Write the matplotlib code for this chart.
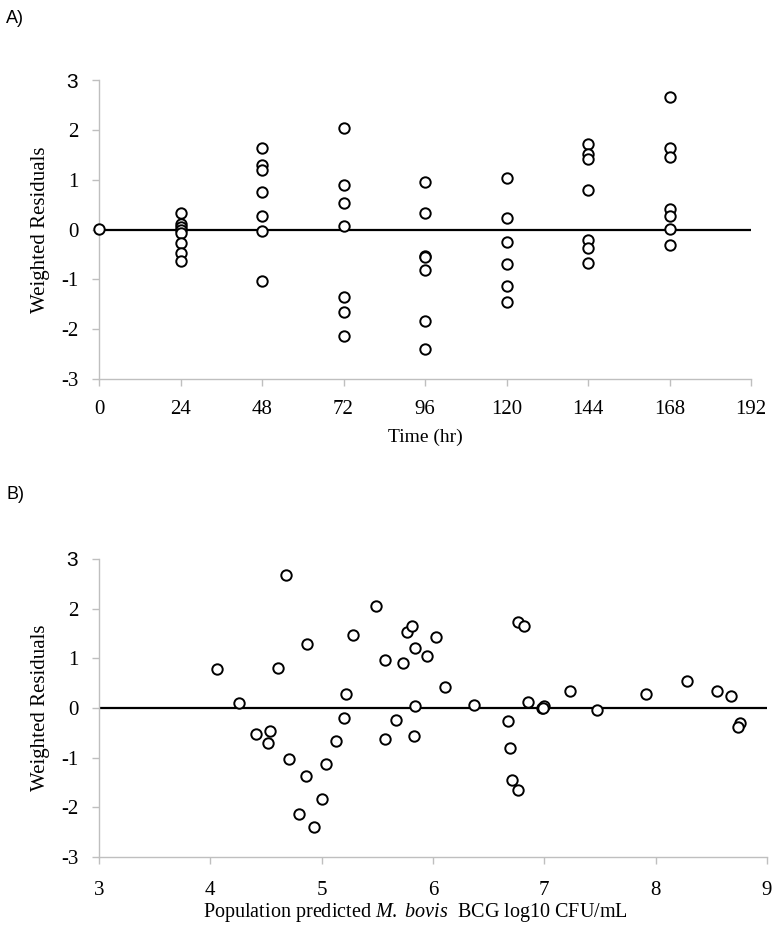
import matplotlib
matplotlib.use("Agg")
import matplotlib.pyplot as plt

# panel A: weighted residuals vs time
time_hr = [0,
           24, 24, 24, 24, 24, 24, 24, 24,
           48, 48, 48, 48, 48, 48, 48,
           72, 72, 72, 72, 72, 72, 72,
           96, 96, 96, 96, 96, 96, 96,
           120, 120, 120, 120, 120, 120,
           144, 144, 144, 144, 144, 144, 144,
           168, 168, 168, 168, 168, 168, 168]
wres_time = [0.01,
             0.34, 0.12, 0.05, 0.0, -0.07, -0.28, -0.48, -0.64,
             1.64, 1.29, 1.19, 0.76, 0.27, -0.02, -1.03,
             2.04, 0.89, 0.53, 0.07, -1.36, -1.66, -2.14,
             0.96, 0.34, -0.53, -0.56, -0.81, -1.84, -2.40,
             1.03, 0.24, -0.25, -0.70, -1.13, -1.45,
             1.72, 1.52, 1.41, 0.80, -0.21, -0.38, -0.67,
             2.66, 1.64, 1.45, 0.42, 0.28, 0.01, -0.32]

# panel B: weighted residuals vs population prediction
pred = [4.06, 4.26, 4.41, 4.54, 4.52, 4.61, 4.68, 4.71, 4.87, 4.86,
        4.80, 4.93, 5.00, 5.04, 5.13, 5.20, 5.22, 5.28, 5.49, 5.57,
        5.57, 5.67, 5.73, 5.77, 5.81, 5.84, 5.84, 5.83, 6.03, 5.95,
        6.11, 6.37, 6.67, 6.69, 6.71, 6.76, 6.76, 6.82, 6.85, 6.98,
        7.00, 6.99, 7.23, 7.47, 7.91, 8.28, 8.55, 8.68, 8.76, 8.74]
wres_pred = [0.78, 0.09, -0.53, -0.47, -0.70, 0.81, 2.67, -1.02, 1.29, -1.36,
             -2.14, -2.40, -1.84, -1.12, -0.66, -0.21, 0.28, 1.46, 2.05, 0.97,
             -0.63, -0.24, 0.90, 1.53, 1.65, 1.20, 0.03, -0.57, 1.43, 1.04,
             0.42, 0.06, -0.27, -0.80, -1.45, -1.65, 1.73, 1.66, 0.12, -0.01,
             0.03, 0.0, 0.35, -0.04, 0.28, 0.55, 0.35, 0.25, -0.30, -0.38]

time_ticks = [0, 24, 48, 72, 96, 120, 144, 168, 192]
pred_ticks = [3, 4, 5, 6, 7, 8, 9]
y_ticks = [-3, -2, -1, 0, 1, 2, 3]

plt.rcParams['font.family'] = ['Liberation Serif', 'DejaVu Serif']
plt.rcParams['axes.unicode_minus'] = False
plt.rcParams['mathtext.fontset'] = 'custom'
plt.rcParams['mathtext.rm'] = 'Liberation Serif'
plt.rcParams['mathtext.it'] = 'Liberation Serif:italic'

fig = plt.figure(figsize=(7.76, 9.38), dpi=100)
axA = fig.add_axes([0.1276, 0.5959, 0.8402, 0.3188])
axB = fig.add_axes([0.1276, 0.0864, 0.8608, 0.3177])

def style(ax, xlim, xticks):
    ax.set_xlim(*xlim)
    ax.set_ylim(-3, 3)
    ax.set_xticks(xticks)
    ax.set_yticks(y_ticks)
    for s in ['top', 'right']:
        ax.spines[s].set_visible(False)
    for s in ['left', 'bottom']:
        ax.spines[s].set_color('#bfbfbf')
        ax.spines[s].set_linewidth(1.0)
    ax.tick_params(direction='out', length=5, width=1.0, color='#bfbfbf',
                   labelsize=15, pad=10)
    ax.axhline(0, color='black', lw=1.6, zorder=2)
    ax.set_ylabel('Weighted Residuals', fontsize=15, labelpad=8)
    # the top label "3" is drawn in a sans face in the original
    ax.get_yticklabels()[-1].set_fontfamily('Liberation Sans')

style(axA, (0, 192), time_ticks)
axA.plot(time_hr, wres_time, 'o', mfc='white', mec='black', ms=7.5, mew=1.4,
         zorder=3, clip_on=False)
axA.set_xlabel('Time (hr)', fontsize=14, labelpad=7)

style(axB, (3, 9), pred_ticks)
axB.tick_params(axis='x', pad=12)
axB.plot(pred, wres_pred, 'o', mfc='white', mec='black', ms=7.5, mew=1.4,
         zorder=3, clip_on=False)
axB.set_xlabel('Population predicted $\\mathit{M.\\ bovis}$  BCG log10 CFU/mL',
               fontsize=14.5, labelpad=1)
axB.xaxis.label.set_x(0.473)

fig.text(0.008, 0.9808, 'A)', fontsize=13, family='Liberation Sans', va='center')
fig.text(0.008, 0.4723, 'B)', fontsize=13, family='Liberation Sans', va='center')

fig.savefig('out.png', dpi=100)
